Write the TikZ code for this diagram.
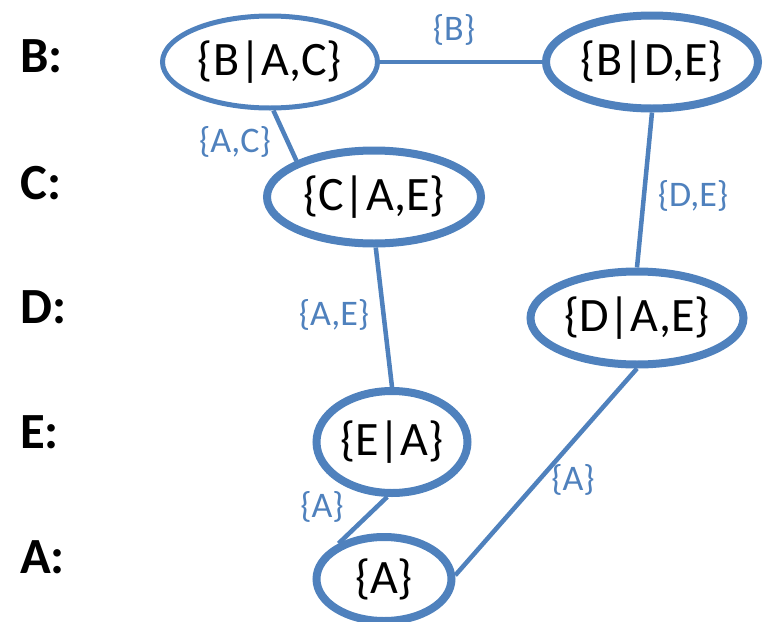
\documentclass[tikz,border=0pt]{standalone}
\usepackage{fontspec}
\setmainfont{Carlito}
\usetikzlibrary{shapes.geometric}
\definecolor{nodeblue}{HTML}{4F81BD}
\begin{document}
\begin{tikzpicture}[x=0.75pt,y=-0.75pt,
  clique/.style={ellipse,draw=nodeblue,line width=6pt,inner sep=0pt,
    font=\fontsize{36}{40}\selectfont,text=black},
  thinclique/.style={clique,line width=3.75pt},
  sepedge/.style={draw=nodeblue,line width=3.4pt},
  seplabel/.style={text=nodeblue,inner sep=0pt,font=\fontsize{27}{30}\selectfont},
  rowlabel/.style={anchor=west,inner sep=0pt,font=\fontsize{38}{42}\selectfont\bfseries}]
\useasboundingbox (0,0) rectangle (769,622);

% variable order on the left
\node[rowlabel] (lB) at (20,56)  {B:};
\node[rowlabel] (lC) at (20,183) {C:};
\node[rowlabel] (lD) at (20,307) {D:};
\node[rowlabel] (lE) at (20,432) {E:};
\node[rowlabel] (lA) at (20,557) {A:};

% cliques
\node[thinclique,minimum width=161.25pt,minimum height=69pt] (bac) at (270,62) {\{B|A,C\}};
\node[clique,minimum width=159pt,minimum height=69.75pt] (bde) at (652,62) {\{B|D,E\}};
\node[clique,minimum width=160.5pt,minimum height=69.75pt] (cae) at (374,197) {\{C|A,E\}};
\node[clique,minimum width=159.75pt,minimum height=69.75pt] (dae) at (637,318) {\{D|A,E\}};
\node[clique,minimum width=113.25pt,minimum height=76.5pt] (ea) at (392,442) {\{E|A\}};
\node[clique,minimum width=101.25pt,minimum height=63pt] (a) at (384,579) {\{A\}};

% separators
\draw[sepedge] (bac.east) -- (bde.west);
\draw[sepedge] (bac.-86) -- (cae.155);
\draw[sepedge] (bde.south) -- (dae.north);
\draw[sepedge] (cae.-88) -- (ea.north);
\draw[sepedge] (ea.-95) -- (a.142);
\draw[sepedge] (dae.south) -- (a.3);

\node[seplabel] (sB)  at (454,30)  {\{B\}};
\node[seplabel] (sAC) at (235,142) {\{A,C\}};
\node[seplabel] (sDE) at (693,196) {\{D,E\}};
\node[seplabel] (sAE) at (334,315) {\{A,E\}};
\node[seplabel] (sA1) at (322,507) {\{A\}};
\node[seplabel] (sA2) at (573,480) {\{A\}};
\end{tikzpicture}
\end{document}
